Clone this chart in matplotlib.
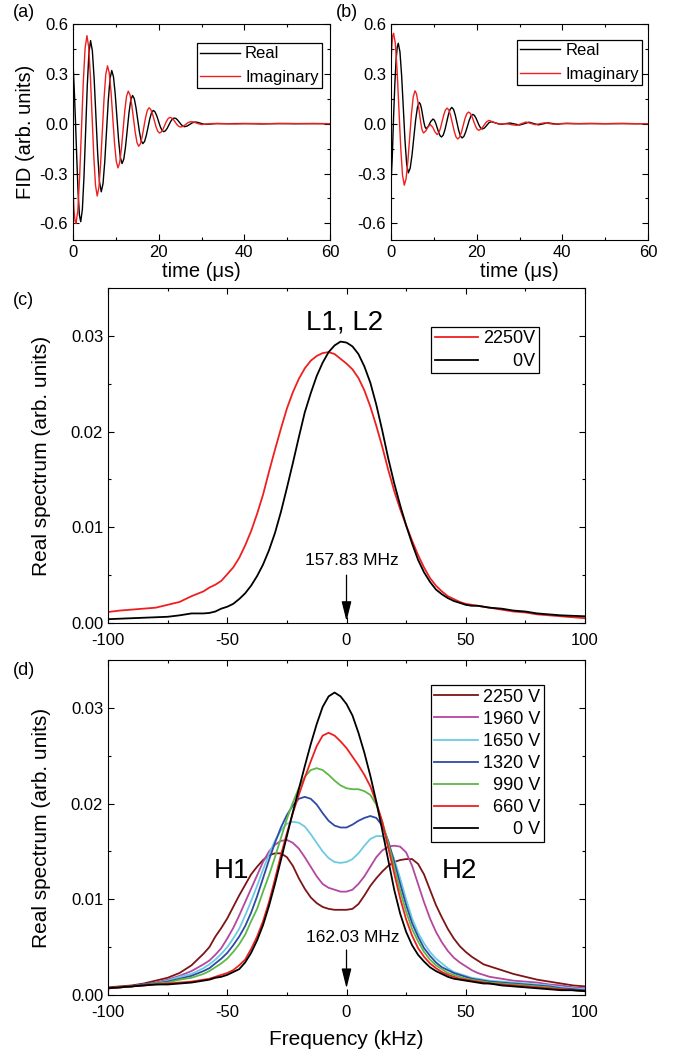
import matplotlib
matplotlib.use('Agg')
import matplotlib.pyplot as plt
from matplotlib.ticker import MultipleLocator, FormatStrFormatter

plt.rcParams['font.family'] = ['Liberation Sans', 'DejaVu Sans']
plt.rcParams['axes.unicode_minus'] = False

# ---- (a) FID, real and imaginary parts ----
t_a_re = [0.0, 0.3, 0.6, 0.9, 1.2, 1.5, 1.8, 2.183, 2.567, 2.95, 3.333, 3.717, 4.1,
          4.517, 4.933, 5.35, 5.767, 6.183, 6.6, 7.008, 7.417, 7.825, 8.233, 8.642, 9.05,
          9.45, 9.85, 10.25, 10.65, 11.05, 11.45, 11.858, 12.267, 12.675, 13.083, 13.492, 13.9,
          14.3, 14.7, 15.1, 15.5, 15.9, 16.3, 16.708, 17.117, 17.525, 17.933, 18.342, 18.75,
          19.15, 19.55, 19.95, 20.35, 20.75, 21.15, 21.567, 21.983, 22.4, 22.817, 23.233, 23.65,
          24.05, 24.45, 24.85, 25.25, 25.65, 26.05, 26.66, 27.28, 27.89, 28.5,
          29.12, 29.75, 30.38, 31.0, 33.5, 36, 40, 44, 48, 52, 56, 60]
fid_a_re = [0.37, 0.2, 0.0, -0.22, -0.42, -0.55, -0.59, -0.517, -0.318, -0.045, 0.228, 0.427, 0.50,
            0.439, 0.273, 0.045, -0.183, -0.349, -0.41, -0.361, -0.228, -0.045, 0.138, 0.271, 0.32,
            0.282, 0.18, 0.04, -0.10, -0.202, -0.24, -0.213, -0.138, -0.035, 0.068, 0.143, 0.17,
            0.151, 0.098, 0.025, -0.048, -0.101, -0.12, -0.107, -0.07, -0.02, 0.03, 0.067, 0.08,
            0.071, 0.048, 0.016, -0.016, -0.039, -0.048, -0.043, -0.028, -0.007, 0.014, 0.029, 0.034,
            0.031, 0.021, 0.008, -0.005, -0.015, -0.018, -0.014, -0.004, 0.006, 0.01,
            0.008, 0.003, -0.002, -0.004, 0.001, 0.0, 0.001, -0.001, 0.001, 0.0, 0.001, 0.0]
t_a_im = [0.0, 0.23, 0.47, 0.7, 1.125, 1.55, 1.975, 2.4, 2.825, 3.25,
          3.65, 4.05, 4.45, 4.85, 5.25, 5.65, 6.05, 6.45, 6.85, 7.25, 7.65, 8.05,
          8.458, 8.867, 9.275, 9.683, 10.092, 10.5, 10.9, 11.3, 11.7, 12.1, 12.5, 12.9,
          13.308, 13.717, 14.125, 14.533, 14.942, 15.35, 15.75, 16.15, 16.55, 16.95, 17.35, 17.75,
          18.158, 18.567, 18.975, 19.383, 19.792, 20.2, 20.608, 21.017, 21.425, 21.833, 22.242, 22.65,
          23.058, 23.467, 23.875, 24.283, 24.692, 25.1, 25.71, 26.33, 26.94, 27.55,
          28.16, 28.78, 29.39, 30.0, 32.5, 35, 38, 42, 46, 50, 55, 60]
fid_a_im = [-0.40, -0.52, -0.585, -0.60, -0.524, -0.318, -0.035, 0.248, 0.454, 0.53,
            0.465, 0.289, 0.048, -0.194, -0.37, -0.435, -0.383, -0.239, -0.044, 0.152, 0.296, 0.348,
            0.307, 0.195, 0.041, -0.113, -0.225, -0.266, -0.235, -0.15, -0.035, 0.081, 0.165, 0.196,
            0.174, 0.113, 0.03, -0.053, -0.114, -0.136, -0.12, -0.078, -0.02, 0.038, 0.08, 0.096,
            0.086, 0.058, 0.02, -0.018, -0.046, -0.056, -0.05, -0.033, -0.009, 0.015, 0.032, 0.038,
            0.034, 0.024, 0.009, -0.006, -0.016, -0.02, -0.016, -0.004, 0.008, 0.012,
            0.01, 0.004, -0.001, -0.005, 0.001, 0.0, -0.001, 0.001, 0.0, 0.001, 0.0, 0.0]

# ---- (b) FID, real and imaginary parts ----
t_b_re = [0.0, 0.3, 0.6, 0.9, 1.2, 1.45, 1.7, 2.092, 2.483, 2.875, 3.267, 3.658, 4.05,
          4.475, 4.9, 5.325, 5.75, 6.175, 6.6, 6.867, 7.133, 7.4, 7.667, 7.933, 8.2,
          8.73, 9.0, 9.27, 9.8, 10.133, 10.467, 10.8, 11.133, 11.467, 11.8,
          12.2, 12.6, 13.0, 13.4, 13.8, 14.2, 14.6, 15.0, 15.4, 15.8, 16.2, 16.6,
          17.017, 17.433, 17.85, 18.267, 18.683, 19.1, 19.467, 19.833, 20.2, 20.567, 20.933, 21.3,
          21.82, 22.35, 22.88, 23.4, 24.5, 25.6, 26.7, 27.8, 28.9, 30.0, 31.1, 32.2, 33.3,
          34.4, 35.5, 36.6, 37.7, 38.8, 39.9, 41, 44, 47, 50, 54, 57, 60]
fid_b_re = [-0.36, -0.2, 0.04, 0.24, 0.39, 0.46, 0.484, 0.432, 0.289, 0.094, -0.101, -0.244, -0.296,
            -0.268, -0.19, -0.084, 0.022, 0.1, 0.128, 0.117, 0.089, 0.049, 0.01, -0.019, -0.03,
            -0.015, -0.001, 0.013, 0.028, 0.021, 0.001, -0.026, -0.053, -0.073, -0.08,
            -0.068, -0.036, 0.009, 0.054, 0.086, 0.098, 0.086, 0.052, 0.006, -0.04, -0.074, -0.086,
            -0.076, -0.05, -0.015, 0.021, 0.047, 0.056, 0.05, 0.034, 0.012, -0.01, -0.026, -0.032,
            -0.026, -0.01, 0.006, 0.012, 0.004, -0.004, 0.0, 0.004, -0.002, -0.008, 0.0, 0.009, 0.001,
            -0.007, -0.001, 0.005, 0.001, -0.003, 0.0, 0.002, 0.0, 0.001, 0.0, 0.001, 0.0, 0.0]
t_b_im = [0.0, 0.2, 0.4, 0.6, 1.017, 1.433, 1.85, 2.267, 2.683, 3.1,
          3.517, 3.933, 4.35, 4.767, 5.183, 5.6, 5.933, 6.267, 6.6, 6.933, 7.267, 7.6,
          8.13, 8.4, 8.67, 9.2, 9.73, 10.0, 10.27, 10.8,
          11.183, 11.567, 11.95, 12.333, 12.717, 13.1, 13.517, 13.933, 14.35, 14.767, 15.183, 15.6,
          16.017, 16.433, 16.85, 17.267, 17.683, 18.1, 18.5, 18.9, 19.3, 19.7, 20.1, 20.5,
          21.1, 21.7, 22.3, 22.9, 24.05, 25.2, 26.3, 27.4, 28.4, 29.4, 30.45, 31.5, 32.6, 33.7,
          34.75, 35.8, 36.9, 38.0, 40, 43, 46, 50, 54, 57, 60]
fid_b_im = [0.36, 0.47, 0.53, 0.544, 0.483, 0.316, 0.087, -0.142, -0.309, -0.37,
            -0.332, -0.228, -0.086, 0.056, 0.16, 0.198, 0.181, 0.135, 0.071, 0.008, -0.039, -0.056,
            -0.043, -0.031, -0.018, -0.006, -0.021, -0.035, -0.05, -0.065,
            -0.054, -0.025, 0.015, 0.054, 0.083, 0.094, 0.082, 0.048, 0.001, -0.046, -0.08, -0.092,
            -0.081, -0.052, -0.011, 0.03, 0.059, 0.07, 0.063, 0.043, 0.015, -0.013, -0.033, -0.04,
            -0.031, -0.01, 0.011, 0.02, 0.008, -0.003, 0.0, -0.002, -0.007, -0.01, 0.0, 0.01, 0.002,
            -0.006, 0.0, 0.005, 0.001, -0.003, 0.001, 0.0, 0.001, 0.0, 0.001, 0.0, 0.0]

# ---- frequency grid (kHz) shared by (c) and (d) ----
freq = [-100, -95, -90, -85, -80, -75, -70, -65, -60,
        -57.5, -55, -52.5, -50, -47.5, -45, -42.5, -40, -37.5, -35, -32.5, -30, -27.5, -25,
        -22.5, -20, -17.5, -15, -12.5, -10, -7.5, -5, -2.5, 0, 2.5, 5, 7.5, 10, 12.5, 15,
        17.5, 20, 22.5, 25, 27.5, 30, 32.5, 35, 37.5, 40, 42.5, 45, 47.5, 50, 52.5, 55, 57.5,
        60, 65, 70, 75, 80, 85, 90, 95, 100]

# ---- (c) L1, L2 ----
spec_c_0v = [0.0004, 0.00045, 0.0005, 0.00055, 0.0006, 0.00065, 0.0008, 0.001, 0.001,
             0.00105, 0.0012, 0.0015, 0.0017, 0.002, 0.0025, 0.0031, 0.0039, 0.0049, 0.0061,
             0.0076, 0.0094, 0.0116, 0.0141, 0.0167, 0.0194, 0.022, 0.024, 0.0258, 0.0272,
             0.0283, 0.029, 0.0294, 0.0293, 0.0289, 0.0281, 0.0268, 0.0251, 0.0228, 0.0201,
             0.0172, 0.0146, 0.0123, 0.0102, 0.0083, 0.0066, 0.0053, 0.0043, 0.0035, 0.003,
             0.0026, 0.0023, 0.0021, 0.0019, 0.0018, 0.0018, 0.0017, 0.0016, 0.0015, 0.0013,
             0.0012, 0.001, 0.0009, 0.0008, 0.00075, 0.0007]
spec_c_2250v = [0.00115, 0.0013, 0.0014, 0.0015, 0.0016, 0.0019, 0.0022, 0.0028, 0.0033,
                0.0037, 0.004, 0.0044, 0.0051, 0.0058, 0.0068, 0.0081, 0.0096, 0.0114, 0.0134,
                0.0158, 0.0181, 0.0203, 0.0224, 0.0241, 0.0255, 0.0266, 0.0274, 0.0279, 0.0282,
                0.0283, 0.0281, 0.0276, 0.0271, 0.0265, 0.0256, 0.0243, 0.0226, 0.0206, 0.0184,
                0.016, 0.0138, 0.0119, 0.0102, 0.0086, 0.0071, 0.0058, 0.0047, 0.0039, 0.0033,
                0.0028, 0.0025, 0.0022, 0.002, 0.0019, 0.0018, 0.0017, 0.0016, 0.0014, 0.0012,
                0.0011, 0.0009, 0.0008, 0.0007, 0.0006, 0.0005]

# ---- (d) H1, H2 vs applied voltage ----
spec_d_2250v = [0.0008, 0.0009, 0.001, 0.0012, 0.0015, 0.0018, 0.0023, 0.0031, 0.0043,
                0.005, 0.0061, 0.007, 0.008, 0.0092, 0.0104, 0.0115, 0.0126, 0.0134, 0.0141,
                0.0146, 0.0148, 0.0148, 0.0144, 0.0135, 0.0122, 0.0111, 0.0102, 0.0096, 0.0092,
                0.009, 0.0089, 0.0089, 0.0089, 0.009, 0.0095, 0.0104, 0.0114, 0.0122, 0.0129,
                0.0135, 0.0139, 0.0141, 0.0142, 0.0142, 0.0137, 0.0126, 0.011, 0.0094, 0.0081,
                0.0069, 0.0059, 0.0051, 0.0045, 0.004, 0.0036, 0.0032, 0.003, 0.0026, 0.0022,
                0.0019, 0.0016, 0.0014, 0.0012, 0.001, 0.0009]
spec_d_1960v = [0.0007, 0.0008, 0.0009, 0.0011, 0.0013, 0.0016, 0.002, 0.0025, 0.0032,
                0.0036, 0.0042, 0.0049, 0.0059, 0.007, 0.0083, 0.0097, 0.0111, 0.0125, 0.0139,
                0.015, 0.0157, 0.0161, 0.0162, 0.0159, 0.0153, 0.0144, 0.0134, 0.0124, 0.0116,
                0.0112, 0.011, 0.0108, 0.0108, 0.011, 0.0116, 0.0124, 0.0134, 0.0144, 0.0151,
                0.0155, 0.0156, 0.0155, 0.0149, 0.0135, 0.0116, 0.0097, 0.008, 0.0066, 0.0055,
                0.0046, 0.0039, 0.0034, 0.003, 0.0026, 0.0023, 0.0021, 0.0019, 0.0017, 0.0015,
                0.0014, 0.0013, 0.0011, 0.001, 0.0008, 0.0007]
spec_d_1650v = [0.0007, 0.0008, 0.0009, 0.0011, 0.0012, 0.0015, 0.0019, 0.0022, 0.0028,
                0.0032, 0.0037, 0.0043, 0.005, 0.0059, 0.0069, 0.0083, 0.0098, 0.0114, 0.0131,
                0.0147, 0.0161, 0.0172, 0.0179, 0.0181, 0.018, 0.0176, 0.0168, 0.0159, 0.015,
                0.0143, 0.0139, 0.0138, 0.0139, 0.0142, 0.0148, 0.0156, 0.0163, 0.0166, 0.0166,
                0.0157, 0.0142, 0.0122, 0.01, 0.008, 0.0065, 0.0054, 0.0045, 0.0038, 0.0033,
                0.0028, 0.0024, 0.0022, 0.002, 0.0018, 0.0017, 0.0016, 0.0015, 0.0014, 0.0013,
                0.0012, 0.0011, 0.001, 0.0008, 0.0007, 0.0006]
spec_d_1320v = [0.0007, 0.0008, 0.0009, 0.0011, 0.0012, 0.0014, 0.0017, 0.002, 0.0025,
                0.0028, 0.0033, 0.0038, 0.0044, 0.0052, 0.0061, 0.0072, 0.0086, 0.0103, 0.0122,
                0.0141, 0.0159, 0.0175, 0.0188, 0.0198, 0.0205, 0.0207, 0.0205, 0.0199, 0.019,
                0.0182, 0.0177, 0.0175, 0.0175, 0.0178, 0.0182, 0.0185, 0.0187, 0.0185, 0.0177,
                0.0161, 0.0139, 0.0116, 0.0094, 0.0075, 0.0061, 0.0049, 0.0041, 0.0034, 0.0029,
                0.0026, 0.0023, 0.0021, 0.0019, 0.0017, 0.0016, 0.0015, 0.0014, 0.0013, 0.0012,
                0.0011, 0.001, 0.0009, 0.0007, 0.0006, 0.0005]
spec_d_990v = [0.0007, 0.0008, 0.0009, 0.001, 0.0012, 0.0013, 0.0016, 0.0018, 0.0022,
               0.0025, 0.0029, 0.0033, 0.0038, 0.0045, 0.0053, 0.0063, 0.0077, 0.009, 0.0108,
               0.0125, 0.0144, 0.0164, 0.0184, 0.0201, 0.0216, 0.0228, 0.0235, 0.0237, 0.0235,
               0.023, 0.0224, 0.0219, 0.0216, 0.0215, 0.0215, 0.0213, 0.0209, 0.0199, 0.0181,
               0.0159, 0.0134, 0.0109, 0.0087, 0.0069, 0.0056, 0.0045, 0.0037, 0.0031, 0.0027,
               0.0023, 0.0021, 0.0019, 0.0017, 0.0016, 0.0015, 0.0014, 0.0013, 0.0012, 0.0011,
               0.001, 0.0009, 0.0008, 0.0006, 0.0005, 0.0004]
spec_d_660v = [0.0007, 0.0008, 0.0009, 0.001, 0.0011, 0.0012, 0.0013, 0.0014, 0.0016,
               0.0017, 0.0019, 0.0021, 0.0023, 0.0026, 0.0031, 0.0037, 0.0048, 0.0061, 0.0077,
               0.0097, 0.0121, 0.0146, 0.0169, 0.019, 0.0209, 0.0227, 0.0244, 0.026, 0.0271,
               0.0274, 0.0271, 0.0265, 0.0258, 0.0249, 0.024, 0.023, 0.0218, 0.0201, 0.0181,
               0.0154, 0.0127, 0.0101, 0.0079, 0.0062, 0.0049, 0.004, 0.0033, 0.0028, 0.0024,
               0.0021, 0.0019, 0.0017, 0.0016, 0.0015, 0.0014, 0.0013, 0.0012, 0.0011, 0.001,
               0.0009, 0.0008, 0.0007, 0.0006, 0.0005, 0.0004]
spec_d_0v = [0.0007, 0.0008, 0.0009, 0.001, 0.0011, 0.0011, 0.0012, 0.0013, 0.0015,
             0.0016, 0.0018, 0.0019, 0.0021, 0.0024, 0.0027, 0.0034, 0.0044, 0.0057, 0.0073,
             0.0093, 0.0116, 0.0141, 0.0166, 0.0191, 0.0215, 0.0239, 0.0262, 0.0283, 0.0301,
             0.0312, 0.0316, 0.0312, 0.0304, 0.0292, 0.0274, 0.0253, 0.0229, 0.0202, 0.0172,
             0.0141, 0.011, 0.0085, 0.0066, 0.0052, 0.0042, 0.0035, 0.0029, 0.0025, 0.0022,
             0.0019, 0.0017, 0.0016, 0.0015, 0.0014, 0.0013, 0.0012, 0.0012, 0.001, 0.0009,
             0.0008, 0.0007, 0.0006, 0.0005, 0.0005, 0.0004]

voltages = ['2250', '1960', '1650', '1320', '990', '660', '0']
colors_d = ['#7d1517', '#b4479f', '#6ccbe3', '#2e4aa6', '#5cb947', '#f01f1f', '#000000']
specs_d = [spec_d_2250v, spec_d_1960v, spec_d_1650v, spec_d_1320v, spec_d_990v, spec_d_660v,
           spec_d_0v]

RED = '#f01f1f'
W, H = 689, 1055


def box(x0, y0, x1, y1):
    return [x0 / W, 1 - y1 / H, (x1 - x0) / W, (y1 - y0) / H]


def style(ax, xmaj, xmin, ymaj, ymin, yfmt, xpad):
    ax.xaxis.set_major_locator(MultipleLocator(xmaj))
    ax.xaxis.set_minor_locator(MultipleLocator(xmin))
    ax.yaxis.set_major_locator(MultipleLocator(ymaj))
    ax.yaxis.set_minor_locator(MultipleLocator(ymin))
    ax.yaxis.set_major_formatter(FormatStrFormatter(yfmt))
    ax.tick_params(which='both', direction='in', top=True, right=True, labelsize=12, width=0.8)
    ax.tick_params(which='major', length=4)
    ax.tick_params(which='minor', length=2.2)
    ax.tick_params(axis='x', pad=xpad)
    ax.tick_params(axis='y', pad=3.5)
    for sp in ax.spines.values():
        sp.set_linewidth(0.8)


def legend(ax, anchor, size, spacing, bpad):
    leg = ax.legend(loc='upper right', bbox_to_anchor=anchor, borderaxespad=0, fontsize=size,
                    fancybox=False, edgecolor='k', framealpha=1, handlelength=2.4,
                    handletextpad=0.3, borderpad=bpad, labelspacing=spacing)
    leg.get_frame().set_linewidth(0.9)
    return leg


fig = plt.figure(figsize=(6.89, 10.55), dpi=100)

# (a) and (b)
ax_a = fig.add_axes(box(73, 24, 330, 240))
ax_b = fig.add_axes(box(391, 24, 648, 240))
for ax, tr, vr, ti, vi, anc in [(ax_a, t_a_re, fid_a_re, t_a_im, fid_a_im, (0.969, 0.912)),
                                (ax_b, t_b_re, fid_b_re, t_b_im, fid_b_im, (0.977, 0.926))]:
    ax.plot(tr, vr, color='k', lw=1.0, label='Real')
    ax.plot(ti, vi, color=RED, lw=1.0, label='Imaginary')
    ax.set_xlim(0, 60)
    ax.set_ylim(-0.7, 0.6)
    style(ax, 20, 10, 0.3, 0.15, '%.1f', 3.5)
    ax.set_xlabel('time (\u03bcs)', fontsize=14.5)
    ax.xaxis.set_label_coords(0.5, -0.1)
    legend(ax, anc, 12, 0.5, 0.2)
ax_a.set_ylabel('FID (arb. units)', fontsize=14.5)
ax_a.yaxis.set_label_coords(-0.148, 0.5)

# (c)
ax_c = fig.add_axes(box(108, 288, 585, 623))
ax_c.plot(freq, spec_c_2250v, color=RED, lw=1.3, label='2250V')
ax_c.plot(freq, spec_c_0v, color='k', lw=1.3, label='\u2007\u2007\u20070V')
ax_c.set_xlim(-100, 100)
ax_c.set_ylim(0, 0.035)
style(ax_c, 50, 25, 0.01, 0.005, '%.2f', 7)
ax_c.set_ylabel('Real spectrum (arb. units)', fontsize=15)
ax_c.yaxis.set_label_coords(-0.1195, 0.5)
legend(ax_c, (0.9036, 0.884), 13, 0.3, 0.2)
ax_c.text(-1, 0.0307, 'L1, L2', fontsize=20, ha='center', va='baseline')
ax_c.text(2.3, 0.0061, '157.83 MHz', fontsize=12.5, ha='center', va='baseline')
ax_c.annotate('', xy=(0, 0.0002), xytext=(0, 0.005),
              arrowprops=dict(arrowstyle='-|>,head_width=0.2,head_length=0.8', color='k',
                              lw=0.9, mutation_scale=15, shrinkA=0, shrinkB=0))

# (d)
ax_d = fig.add_axes(box(108, 660, 585, 995))
pad = {'2250': '', '1960': '', '1650': '', '1320': '', '990': '\u2007', '660': '\u2007',
       '0': '\u2007\u2007\u2007'}
for v, c, s in zip(voltages, colors_d, specs_d):
    ax_d.plot(freq, s, color=c, lw=1.3, label=pad[v] + v + ' V')
ax_d.set_xlim(-100, 100)
ax_d.set_ylim(0, 0.035)
style(ax_d, 50, 25, 0.01, 0.005, '%.2f', 7)
ax_d.set_ylabel('Real spectrum (arb. units)', fontsize=15)
ax_d.yaxis.set_label_coords(-0.1195, 0.5)
ax_d.set_xlabel('Frequency (kHz)', fontsize=15)
ax_d.xaxis.set_label_coords(0.5, -0.104)
legend(ax_d, (0.914, 0.925), 13, 0.28, 0.2)
ax_d.text(-48.3, 0.0122, 'H1', fontsize=20, ha='center', va='baseline')
ax_d.text(47.2, 0.0122, 'H2', fontsize=20, ha='center', va='baseline')
ax_d.text(2.5, 0.00555, '162.03 MHz', fontsize=12.5, ha='center', va='baseline')
ax_d.annotate('', xy=(0, 0.0007), xytext=(0, 0.0047),
              arrowprops=dict(arrowstyle='-|>,head_width=0.2,head_length=0.8', color='k',
                              lw=0.9, mutation_scale=15, shrinkA=0, shrinkB=0))

# panel letters
for txt, x, y in [('(a)', 13, 4), ('(b)', 336, 4), ('(c)', 13, 292), ('(d)', 13, 662)]:
    fig.text(x / W, 1 - y / H, txt, fontsize=13, ha='left', va='top')

fig.savefig('out.png', dpi=100)
